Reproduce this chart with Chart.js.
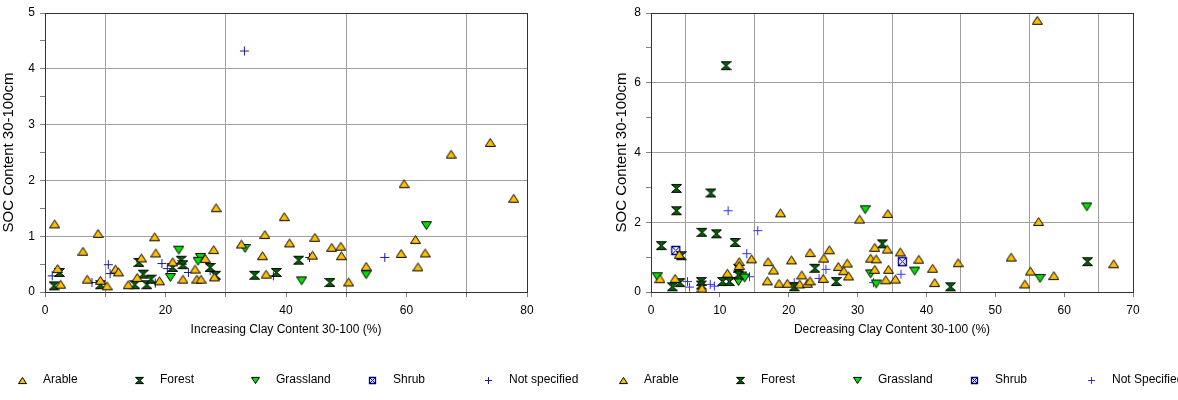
<!DOCTYPE html>
<html>
<head>
<meta charset="utf-8">
<script src="https://cdn.jsdelivr.net/npm/chart.js@4.4.0/dist/chart.umd.min.js"></script>
<style>
body{margin:0;background:#fff}
#wrap{display:flex;width:1178px;height:400px}
canvas{display:block}
</style>
</head>
<body>
<div id="wrap">
<canvas id="inc" width="590" height="400"></canvas>
<canvas id="dec" width="588" height="400"></canvas>
</div>
<script>

const incLabels = ["Arable","Forest","Grassland","Shrub","Not specified"]
const decLabels = ["Arable","Forest","Grassland","Shrub","Not Specified"]

const incXTicks = [0,20,40,60,80]
const incYTicks = [0,1,2,3,4,5]
const decXTicks = [0,10,20,30,40,50,60,70]
const decYTicks = [0,2,4,6,8]

// increasing clay content, [clay %, SOC]
const incArable = [[1.6,1.22],[2.1,0.42],[2.6,0.14],[6.3,0.73],[7.0,0.23],[8.8,1.05],[9.2,0.21],[10.3,0.11],
  [11.7,0.41],[12.2,0.36],[13.8,0.13],[15.3,0.26],[16.0,0.61],[18.2,0.99],[18.4,0.70],[19.0,0.20],[21.2,0.54],
  [22.9,0.23],[24.9,0.41],[25.2,0.23],[25.9,0.23],[26.6,0.60],[28.0,0.76],[28.4,1.51],[28.1,0.27],[32.6,0.86],
  [36.5,1.03],[36.1,0.65],[36.7,0.32],[39.7,1.35],[40.6,0.88],[44.8,0.98],[44.4,0.66],[47.6,0.80],[49.1,0.82],
  [49.2,0.65],[50.4,0.18],[53.3,0.46],[59.6,1.94],[59.1,0.69],[61.5,0.94],[63.1,0.70],[61.9,0.45],[67.4,2.47],
  [73.9,2.68],[77.8,1.68]]
const incForest = [[1.5,0.11],[2.4,0.35],[9.2,0.13],[15.6,0.53],[16.3,0.32],[14.9,0.13],[16.9,0.13],[17.6,0.23],
  [21.2,0.44],[22.6,0.57],[22.9,0.49],[27.4,0.44],[28.3,0.30],[34.8,0.30],[38.4,0.35],[42.1,0.57],[47.3,0.17]]
const incGrass = [[22.2,0.75],[20.8,0.26],[25.8,0.62],[25.4,0.55],[33.2,0.78],[42.6,0.20],[53.3,0.31],[63.3,1.19]]
const incShrub = []
const incOther = [[33.1,4.32],[1.2,0.29],[7.8,0.17],[10.5,0.49],[10.8,0.33],[18.3,0.16],[19.4,0.51],[20.3,0.42],
  [23.8,0.35],[27.4,0.38],[37.9,0.29],[43.9,0.62],[56.4,0.62]]

// decreasing clay content
const decArable = [[1.3,0.38],[3.5,0.39],[4.1,1.08],[7.4,0.11],[11.1,0.54],[12.8,0.87],[12.8,0.76],[14.6,0.95],
  [17.0,0.87],[16.9,0.32],[17.8,0.63],[18.8,2.27],[18.6,0.25],[19.8,0.25],[20.4,0.92],[21.9,0.49],[21.6,0.23],
  [22.7,0.25],[23.1,1.13],[23.1,0.32],[25.1,0.97],[25.0,0.39],[25.9,1.21],[27.2,0.73],[28.0,0.61],[28.5,0.83],
  [28.7,0.46],[30.3,2.09],[31.9,0.97],[32.5,1.28],[32.7,0.95],[32.5,0.65],[34.1,0.35],[34.4,2.25],[34.3,1.23],
  [34.5,0.65],[35.5,0.37],[36.2,1.15],[38.9,0.94],[40.9,0.68],[41.2,0.27],[44.6,0.84],[52.3,1.00],[56.3,2.02],
  [55.1,0.60],[54.3,0.23],[58.5,0.47],[67.2,0.81],[56.1,7.79]]
const decForest = [[3.7,2.97],[3.7,2.33],[8.7,2.84],[10.9,6.49],[1.5,1.33],[4.4,1.04],[7.4,1.71],[9.5,1.67],
  [12.2,1.42],[3.1,0.15],[4.2,0.27],[7.3,0.30],[7.3,0.20],[10.4,0.30],[11.4,0.30],[12.7,0.68],[12.7,0.49],
  [20.8,0.15],[23.8,0.68],[26.9,0.30],[33.6,1.38],[43.5,0.15],[63.4,0.87]]
const decGrass = [[0.9,0.44],[12.7,0.30],[13.2,0.46],[13.6,0.40],[31.1,2.36],[31.9,0.52],[32.7,0.23],[38.3,0.60],
  [56.5,0.39],[63.3,2.44]]
const decShrub = [[3.6,1.19],[36.5,0.87]]
const decOther = [[5.3,0.30],[5.6,0.14],[8.6,0.22],[9.2,0.17],[11.2,2.33],[13.9,1.10],[14.3,0.44],[15.5,1.76],
  [20.8,0.27],[24.4,0.39],[25.4,0.65],[32.3,0.27],[36.3,0.51]]


Chart.defaults.font.family = '"Liberation Sans", Arial, sans-serif'
Chart.defaults.font.size = 12
Chart.defaults.color = '#000'

function marker(kind, fill, s){
  let c = document.createElement('canvas')
  c.width = s
  c.height = s
  let g = c.getContext('2d')
  let a = 0.5, b = s - 0.5, m = s / 2, t = 0.5 + s * 0.1, u = s - 0.5 - s * 0.1
  g.lineWidth = 1
  g.strokeStyle = '#000'
  g.fillStyle = fill
  g.beginPath()
  if(kind == 'up'){
    g.moveTo(m, t); g.lineTo(b, u); g.lineTo(a, u)
  } else if(kind == 'down'){
    g.moveTo(a, t); g.lineTo(b, t); g.lineTo(m, u)
  } else if(kind == 'glass'){
    g.moveTo(a, t); g.lineTo(b, t); g.lineTo(m + 0.5, m); g.lineTo(b, u); g.lineTo(a, u); g.lineTo(m - 0.5, m)
  }
  if(kind == 'up' || kind == 'down' || kind == 'glass'){
    g.closePath(); g.fill(); g.stroke()
  }
  if(kind == 'box'){
    g.strokeStyle = fill
    g.fillStyle = '#fff'
    g.lineWidth = 1.3
    g.rect(1.5, 1.5, s - 3, s - 3); g.fill(); g.stroke()
    g.beginPath()
    g.moveTo(1.5, 1.5); g.lineTo(s - 1.5, s - 1.5)
    g.moveTo(s - 1.5, 1.5); g.lineTo(1.5, s - 1.5)
    g.lineWidth = 1
    g.stroke()
  }
  if(kind == 'cross'){
    g.strokeStyle = fill
    g.moveTo(m, 1); g.lineTo(m, s - 1)
    g.moveTo(1, m); g.lineTo(s - 1, m)
    g.stroke()
  }
  return c
}

function styles(crossColor, s){
  return [
    marker('up', '#ffc000', s),
    marker('glass', '#006400', s),
    marker('down', '#00e000', s),
    marker('box', '#000090', s),
    marker('cross', crossColor, s)
  ]
}

const frame = {
  id: 'frame',
  beforeDatasetsDraw(chart){
    let a = chart.chartArea, ctx = chart.ctx
    ctx.save()
    ctx.strokeStyle = '#333'
    ctx.lineWidth = 1
    ctx.strokeRect(Math.round(a.left) + 0.5, Math.round(a.top) + 0.5, Math.round(a.right - a.left), Math.round(a.bottom - a.top))
    ctx.restore()
  },
  afterDraw(chart, args, opts){
    let ctx = chart.ctx
    ctx.save()
    ctx.font = '12px "Liberation Sans", Arial'
    ctx.fillStyle = '#000'
    ctx.textBaseline = 'middle'
    opts.names.forEach((n, i) => {
      let x = Math.round(opts.x + i * opts.step), y = opts.y, img = opts.icons[i]
      ctx.drawImage(img, Math.round(x - img.width / 2), Math.round(y - img.height / 2))
      ctx.fillText(n, x + 21, y)
    })
    ctx.restore()
  }
}

function creatChart(id, cfg){
  let icons = styles(cfg.cross, 11)
  let small = styles(cfg.cross, 9)
  let sets = cfg.series.map((d, i) => ({
    label: cfg.names[i],
    data: d.map(p => ({x: p[0], y: p[1]})),
    pointStyle: icons[i],
    pointRadius: 5
  }))
  let grey = '#a0a0a0', none = 'rgba(0,0,0,0)'
  return new Chart(document.getElementById(id), {
    type: 'scatter',
    data: {datasets: sets},
    plugins: [frame],
    options: {
      responsive: false,
      animation: false,
      devicePixelRatio: 1,
      events: [],
      layout: {padding: {left: 0, right: cfg.padRight, top: 13, bottom: 59}},
      plugins: {
        legend: {display: false},
        tooltip: {enabled: false},
        frame: {names: cfg.names, icons: small, x: cfg.legX, step: cfg.legStep, y: 380}
      },
      scales: {
        x: {
          type: 'linear', min: 0, max: cfg.xMax,
          afterFit: s => { s.height = 49 },
          border: {display: false},
          grid: {
            color: c => cfg.xGrid(c.tick.value) ? grey : none,
            tickColor: c => cfg.xTick(c.tick.value) ? '#808080' : none,
            tickLength: 5
          },
          ticks: {
            stepSize: cfg.xStep, autoSkip: false, maxRotation: 0, padding: 6,
            callback: v => cfg.xLabels.includes(v) ? v : ''
          },
          title: {display: true, text: cfg.xTitle, font: {size: 12}, padding: {top: 4, bottom: 4}}
        },
        y: {
          type: 'linear', min: 0, max: cfg.yMax,
          afterFit: s => { s.width = cfg.yWidth },
          border: {display: false},
          grid: {
            color: c => cfg.yGrid(c.tick.value) ? grey : none,
            tickColor: '#808080',
            tickLength: 5
          },
          ticks: {
            stepSize: cfg.yStep, autoSkip: false, padding: 5,
            callback: v => cfg.yLabels.includes(v) ? v : ''
          },
          title: {display: true, text: 'SOC Content 30-100cm', font: {size: 15}, padding: {top: cfg.yTitlePad, bottom: 4}}
        }
      }
    }
  })
}

creatChart('inc', {
  series: [incArable, incForest, incGrass, incShrub, incOther],
  names: incLabels,
  cross: '#1a1aa0',
  xMax: 80, xStep: 10, xLabels: incXTicks,
  xGrid: v => v % 20 == 10,
  xTick: v => true,
  yMax: 5, yStep: 0.5, yLabels: incYTicks,
  yGrid: v => v % 1 == 0 && v > 0 && v < 5,
  xTitle: 'Increasing Clay Content 30-100 (%)',
  yWidth: 45, yTitlePad: 0, padRight: 63,
  legX: 22, legStep: 116.5
})

creatChart('dec', {
  series: [decArable, decForest, decGrass, decShrub, decOther],
  names: decLabels,
  cross: '#3030ff',
  xMax: 70, xStep: 5, xLabels: decXTicks,
  xGrid: v => v % 10 == 5,
  xTick: v => v % 10 == 0,
  yMax: 8, yStep: 1, yLabels: decYTicks,
  yGrid: v => v % 2 == 0 && v > 0 && v < 8,
  xTitle: 'Decreasing Clay Content 30-100 (%)',
  yWidth: 61, yTitlePad: 23, padRight: 45,
  legX: 33, legStep: 117
})

</script>
</body>
</html>
